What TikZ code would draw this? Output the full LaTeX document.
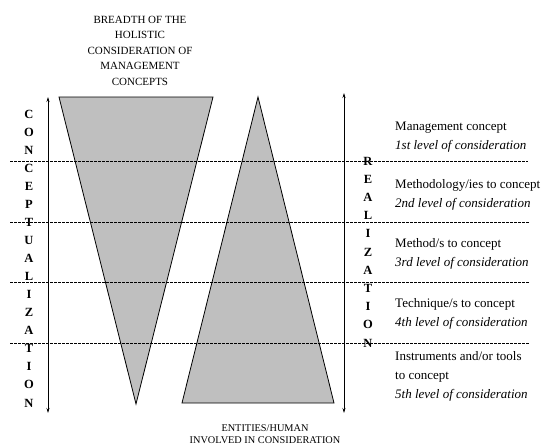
\documentclass[tikz,border=0pt]{standalone}
\usepackage{fontspec}
\setmainfont{Liberation Serif}
\usetikzlibrary{arrows.meta}
\begin{document}
\begin{tikzpicture}[x=1pt,y=-1pt,
  shapefill/.style={draw=black,line width=0.8pt,line join=miter},
  axis/.style={line width=0.7pt,{Stealth[length=5pt,width=3pt]}-{Stealth[length=5pt,width=3pt]}},
  dashline/.style={dash pattern=on 2.5pt off 1.5pt,line width=0.6pt},
  vletter/.style={font=\fontsize{12.5}{12.5}\selectfont\bfseries,inner sep=0pt},
  lvl/.style={font=\fontsize{13}{19}\selectfont,anchor=west,inner sep=0pt,align=left},
  toplab/.style={font=\fontsize{11}{15.5}\selectfont,align=center,inner sep=0pt},
  botlab/.style={font=\fontsize{10.3}{12}\selectfont,align=center,inner sep=0pt}]
\useasboundingbox (0,0) rectangle (541,447);
\colorlet{shapegray}{black!25}
% shapes
\coordinate (L1) at (59,97);
\coordinate (L2) at (213,97);
\coordinate (L3) at (136,404);
\coordinate (R1) at (258,97);
\coordinate (R2) at (334,403);
\coordinate (R3) at (182,403);
\fill[shapegray] (L1) -- (L2) -- (L3) -- cycle;
\fill[shapegray] (R1) -- (R2) -- (R3) -- cycle;
% dashed lines
\foreach \yy/\xe in {161/528,222/530,282/530,343/530}{
  \draw[dashline] (10,\yy) -- (\xe,\yy);
}
\draw[shapefill] (L1) -- (L2) -- (L3) -- cycle;
\draw[shapefill] (R1) -- (R2) -- (R3) -- cycle;
% arrows
\coordinate (A1) at (48,97);
\coordinate (A2) at (48,413);
\coordinate (B1) at (344,93);
\coordinate (B2) at (344,413);
\draw[axis] (A1) -- (A2);
\draw[axis] (B1) -- (B2);
% vertical words
\foreach \ch [count=\i from 0] in {C,O,N,C,E,P,T,U,A,L,I,Z,A,T,I,O,N}{
  \node[vletter] (c\i) at (29,114+18.06*\i) {\ch};
}
\foreach \ch [count=\i from 0] in {R,E,A,L,I,Z,A,T,I,O,N}{
  \node[vletter] (r\i) at (368,161+18.2*\i) {\ch};
}
% labels
\node[toplab] (top) at (140,50.5) {BREADTH OF THE\\HOLISTIC\\CONSIDERATION OF\\MANAGEMENT\\CONCEPTS};
\node[botlab] (bot) at (265,434) {ENTITIES/HUMAN\\INVOLVED IN CONSIDERATION};
\node[lvl] (t1) at (395,137.5) {Management concept\\\textit{1st level of consideration}};
\node[lvl] (t2) at (395,194.5) {Methodology/ies to concept\\\textit{2nd level of consideration}};
\node[lvl] (t3) at (395,254) {Method/s to concept\\\textit{3rd level of consideration}};
\node[lvl] (t4) at (395,314) {Technique/s to concept\\\textit{4th level of consideration}};
\node[lvl] (t5) at (395,376.5) {Instruments and/or tools\\to concept\\\textit{5th level of consideration}};
\end{tikzpicture}
\end{document}
